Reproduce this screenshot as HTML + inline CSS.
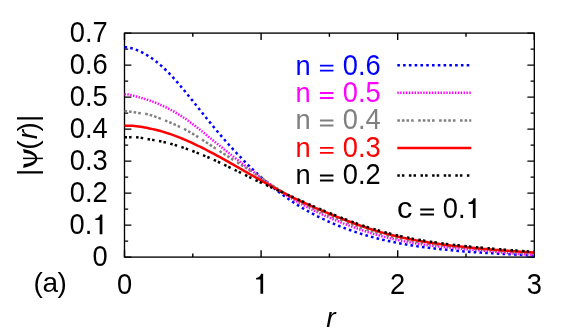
<!DOCTYPE html>
<html><head><meta charset="utf-8"><style>
html,body{margin:0;padding:0;background:#fff}
svg{display:block}
text{font-family:"Liberation Sans",sans-serif;font-size:28px;fill:#000}
.c{fill:none;stroke-width:2.5}
</style></head><body>
<svg width="581" height="332" viewBox="0 0 581 332">
<rect width="581" height="332" fill="#fff"/>
<path d="M124.5,257.1h6.9M534.3,257.1h-6.9M124.5,241.1h3.7M534.3,241.1h-3.7M124.5,225.1h6.9M534.3,225.1h-6.9M124.5,209.1h3.7M534.3,209.1h-3.7M124.5,193.1h6.9M534.3,193.1h-6.9M124.5,177.1h3.7M534.3,177.1h-3.7M124.5,161.1h6.9M534.3,161.1h-6.9M124.5,145.1h3.7M534.3,145.1h-3.7M124.5,129.1h6.9M534.3,129.1h-6.9M124.5,113.1h3.7M534.3,113.1h-3.7M124.5,97.1h6.9M534.3,97.1h-6.9M124.5,81.1h3.7M534.3,81.1h-3.7M124.5,65.1h6.9M534.3,65.1h-6.9M124.5,49.1h3.7M534.3,49.1h-3.7M124.5,33.1h6.9M534.3,33.1h-6.9M124.50,257.1v-6.9M124.50,33.1v6.9M192.80,257.1v-3.7M192.80,33.1v3.7M261.10,257.1v-6.9M261.10,33.1v6.9M329.40,257.1v-3.7M329.40,33.1v3.7M397.70,257.1v-6.9M397.70,33.1v6.9M466.00,257.1v-3.7M466.00,33.1v3.7M534.30,257.1v-6.9M534.30,33.1v6.9" stroke="#000" stroke-width="1.4" fill="none"/>
<rect x="124.5" y="33.1" width="409.80" height="224.00" fill="none" stroke="#000" stroke-width="1.35"/>
<g class="c">
<polyline stroke="#0000ff" stroke-dasharray="2.6 3.18" points="124.5,47.21 126.5,47.29 128.5,47.54 130.5,47.94 132.5,48.47 134.5,49.11 136.5,49.85 138.5,50.68 140.5,51.60 142.5,52.60 144.5,53.69 146.5,54.85 148.5,56.09 150.5,57.40 152.5,58.79 154.5,60.26 156.5,61.80 158.5,63.42 160.5,65.11 162.5,66.89 164.5,68.75 166.5,70.68 168.5,72.69 170.5,74.77 172.5,76.91 174.5,79.11 176.5,81.36 178.5,83.66 180.5,86.00 182.5,88.38 184.5,90.79 186.5,93.23 188.5,95.68 190.5,98.16 192.5,100.64 194.5,103.14 196.5,105.65 198.5,108.16 200.5,110.67 202.5,113.17 204.5,115.68 206.5,118.17 208.5,120.65 210.5,123.12 212.5,125.56 214.5,127.99 216.5,130.39 218.5,132.77 220.5,135.12 222.5,137.45 224.5,139.75 226.5,142.02 228.5,144.27 230.5,146.49 232.5,148.69 234.5,150.86 236.5,153.01 238.5,155.12 240.5,157.22 242.5,159.28 244.5,161.32 246.5,163.33 248.5,165.31 250.5,167.27 252.5,169.19 254.5,171.09 256.5,172.97 258.5,174.81 260.5,176.63 262.5,178.42 264.5,180.18 266.5,181.91 268.5,183.61 270.5,185.28 272.5,186.93 274.5,188.54 276.5,190.13 278.5,191.69 280.5,193.21 282.5,194.71 284.5,196.18 286.5,197.62 288.5,199.03 290.5,200.40 292.5,201.75 294.5,203.07 296.5,204.36 298.5,205.62 300.5,206.85 302.5,208.06 304.5,209.24 306.5,210.39 308.5,211.52 310.5,212.62 312.5,213.70 314.5,214.76 316.5,215.79 318.5,216.80 320.5,217.78 322.5,218.75 324.5,219.69 326.5,220.62 328.5,221.52 330.5,222.41 332.5,223.27 334.5,224.12 336.5,224.95 338.5,225.77 340.5,226.56 342.5,227.34 344.5,228.11 346.5,228.85 348.5,229.58 350.5,230.30 352.5,230.99 354.5,231.68 356.5,232.34 358.5,232.99 360.5,233.63 362.5,234.25 364.5,234.86 366.5,235.45 368.5,236.03 370.5,236.59 372.5,237.14 374.5,237.67 376.5,238.20 378.5,238.70 380.5,239.20 382.5,239.68 384.5,240.15 386.5,240.61 388.5,241.05 390.5,241.48 392.5,241.90 394.5,242.31 396.5,242.71 398.5,243.10 400.5,243.47 402.5,243.84 404.5,244.19 406.5,244.54 408.5,244.87 410.5,245.20 412.5,245.52 414.5,245.83 416.5,246.13 418.5,246.42 420.5,246.70 422.5,246.98 424.5,247.24 426.5,247.50 428.5,247.76 430.5,248.00 432.5,248.25 434.5,248.48 436.5,248.71 438.5,248.93 440.5,249.15 442.5,249.36 444.5,249.57 446.5,249.77 448.5,249.97 450.5,250.17 452.5,250.36 454.5,250.54 456.5,250.73 458.5,250.90 460.5,251.08 462.5,251.25 464.5,251.41 466.5,251.58 468.5,251.73 470.5,251.89 472.5,252.04 474.5,252.19 476.5,252.33 478.5,252.47 480.5,252.61 482.5,252.74 484.5,252.87 486.5,253.00 488.5,253.13 490.5,253.25 492.5,253.37 494.5,253.49 496.5,253.60 498.5,253.71 500.5,253.82 502.5,253.93 504.5,254.03 506.5,254.14 508.5,254.24 510.5,254.34 512.5,254.45 514.5,254.55 516.5,254.66 518.5,254.76 520.5,254.87 522.5,254.98 524.5,255.09 526.5,255.20 528.5,255.32 530.5,255.43 532.5,255.56 534.5,255.68"/>
<polyline stroke="#ff00ff" stroke-dasharray="1.44 1.44" points="124.5,94.15 126.5,94.25 128.5,94.53 130.5,94.94 132.5,95.44 134.5,95.98 136.5,96.53 138.5,97.09 140.5,97.66 142.5,98.25 144.5,98.86 146.5,99.50 148.5,100.16 150.5,100.86 152.5,101.59 154.5,102.35 156.5,103.15 158.5,103.98 160.5,104.84 162.5,105.74 164.5,106.68 166.5,107.66 168.5,108.67 170.5,109.72 172.5,110.81 174.5,111.94 176.5,113.11 178.5,114.32 180.5,115.57 182.5,116.86 184.5,118.19 186.5,119.57 188.5,120.98 190.5,122.44 192.5,123.93 194.5,125.45 196.5,127.00 198.5,128.57 200.5,130.17 202.5,131.78 204.5,133.40 206.5,135.04 208.5,136.68 210.5,138.32 212.5,139.96 214.5,141.60 216.5,143.23 218.5,144.85 220.5,146.47 222.5,148.07 224.5,149.67 226.5,151.26 228.5,152.85 230.5,154.42 232.5,155.99 234.5,157.56 236.5,159.11 238.5,160.66 240.5,162.21 242.5,163.74 244.5,165.27 246.5,166.80 248.5,168.32 250.5,169.83 252.5,171.34 254.5,172.84 256.5,174.34 258.5,175.82 260.5,177.30 262.5,178.76 264.5,180.22 266.5,181.66 268.5,183.09 270.5,184.50 272.5,185.90 274.5,187.29 276.5,188.66 278.5,190.01 280.5,191.34 282.5,192.65 284.5,193.95 286.5,195.22 288.5,196.47 290.5,197.70 292.5,198.90 294.5,200.09 296.5,201.25 298.5,202.38 300.5,203.50 302.5,204.60 304.5,205.68 306.5,206.74 308.5,207.78 310.5,208.80 312.5,209.80 314.5,210.79 316.5,211.76 318.5,212.72 320.5,213.65 322.5,214.58 324.5,215.49 326.5,216.38 328.5,217.26 330.5,218.13 332.5,218.99 334.5,219.83 336.5,220.66 338.5,221.48 340.5,222.29 342.5,223.09 344.5,223.88 346.5,224.65 348.5,225.41 350.5,226.16 352.5,226.90 354.5,227.62 356.5,228.33 358.5,229.03 360.5,229.72 362.5,230.39 364.5,231.05 366.5,231.69 368.5,232.33 370.5,232.95 372.5,233.55 374.5,234.14 376.5,234.72 378.5,235.29 380.5,235.84 382.5,236.37 384.5,236.90 386.5,237.40 388.5,237.90 390.5,238.38 392.5,238.84 394.5,239.30 396.5,239.74 398.5,240.16 400.5,240.58 402.5,240.98 404.5,241.37 406.5,241.75 408.5,242.12 410.5,242.47 412.5,242.82 414.5,243.15 416.5,243.48 418.5,243.79 420.5,244.10 422.5,244.39 424.5,244.68 426.5,244.96 428.5,245.23 430.5,245.49 432.5,245.74 434.5,245.99 436.5,246.23 438.5,246.46 440.5,246.68 442.5,246.90 444.5,247.11 446.5,247.32 448.5,247.52 450.5,247.71 452.5,247.90 454.5,248.09 456.5,248.27 458.5,248.45 460.5,248.62 462.5,248.80 464.5,248.97 466.5,249.14 468.5,249.31 470.5,249.48 472.5,249.65 474.5,249.82 476.5,249.99 478.5,250.16 480.5,250.33 482.5,250.50 484.5,250.68 486.5,250.86 488.5,251.05 490.5,251.23 492.5,251.43 494.5,251.62 496.5,251.83 498.5,252.03 500.5,252.24 502.5,252.45 504.5,252.65 506.5,252.86 508.5,253.06 510.5,253.25 512.5,253.44 514.5,253.61 516.5,253.78 518.5,253.93 520.5,254.07 522.5,254.19 524.5,254.29 526.5,254.38 528.5,254.44 530.5,254.49 532.5,254.50 534.5,254.50"/>
<polyline stroke="#808080" stroke-dasharray="2.6 2 2.6 2 2.6 2 2.6 4.5" points="124.5,111.06 126.5,111.15 128.5,111.37 130.5,111.68 132.5,112.02 134.5,112.36 136.5,112.65 138.5,112.91 140.5,113.16 142.5,113.42 144.5,113.72 146.5,114.09 148.5,114.55 150.5,115.08 152.5,115.69 154.5,116.35 156.5,117.07 158.5,117.83 160.5,118.62 162.5,119.43 164.5,120.25 166.5,121.07 168.5,121.90 170.5,122.74 172.5,123.59 174.5,124.46 176.5,125.35 178.5,126.27 180.5,127.21 182.5,128.19 184.5,129.20 186.5,130.25 188.5,131.34 190.5,132.48 192.5,133.65 194.5,134.85 196.5,136.08 198.5,137.33 200.5,138.61 202.5,139.90 204.5,141.21 206.5,142.52 208.5,143.84 210.5,145.16 212.5,146.48 214.5,147.80 216.5,149.11 218.5,150.41 220.5,151.70 222.5,152.98 224.5,154.26 226.5,155.54 228.5,156.81 230.5,158.08 232.5,159.35 234.5,160.62 236.5,161.89 238.5,163.16 240.5,164.44 242.5,165.72 244.5,167.01 246.5,168.30 248.5,169.60 250.5,170.91 252.5,172.23 254.5,173.55 256.5,174.88 258.5,176.21 260.5,177.55 262.5,178.88 264.5,180.22 266.5,181.55 268.5,182.87 270.5,184.19 272.5,185.50 274.5,186.81 276.5,188.10 278.5,189.37 280.5,190.63 282.5,191.88 284.5,193.11 286.5,194.32 288.5,195.50 290.5,196.67 292.5,197.81 294.5,198.93 296.5,200.02 298.5,201.10 300.5,202.15 302.5,203.19 304.5,204.20 306.5,205.20 308.5,206.18 310.5,207.14 312.5,208.09 314.5,209.02 316.5,209.94 318.5,210.84 320.5,211.73 322.5,212.61 324.5,213.47 326.5,214.33 328.5,215.17 330.5,216.00 332.5,216.83 334.5,217.64 336.5,218.45 338.5,219.25 340.5,220.05 342.5,220.83 344.5,221.61 346.5,222.37 348.5,223.13 350.5,223.88 352.5,224.62 354.5,225.35 356.5,226.06 358.5,226.77 360.5,227.47 362.5,228.15 364.5,228.83 366.5,229.49 368.5,230.14 370.5,230.78 372.5,231.40 374.5,232.01 376.5,232.61 378.5,233.20 380.5,233.77 382.5,234.33 384.5,234.87 386.5,235.40 388.5,235.91 390.5,236.41 392.5,236.90 394.5,237.37 396.5,237.83 398.5,238.28 400.5,238.72 402.5,239.14 404.5,239.55 406.5,239.95 408.5,240.34 410.5,240.72 412.5,241.08 414.5,241.44 416.5,241.78 418.5,242.12 420.5,242.45 422.5,242.77 424.5,243.08 426.5,243.38 428.5,243.67 430.5,243.96 432.5,244.23 434.5,244.50 436.5,244.77 438.5,245.02 440.5,245.27 442.5,245.52 444.5,245.76 446.5,245.99 448.5,246.22 450.5,246.44 452.5,246.66 454.5,246.87 456.5,247.08 458.5,247.29 460.5,247.49 462.5,247.69 464.5,247.89 466.5,248.08 468.5,248.27 470.5,248.46 472.5,248.64 474.5,248.83 476.5,249.01 478.5,249.19 480.5,249.37 482.5,249.55 484.5,249.73 486.5,249.90 488.5,250.08 490.5,250.26 492.5,250.44 494.5,250.61 496.5,250.79 498.5,250.97 500.5,251.15 502.5,251.33 504.5,251.50 506.5,251.68 508.5,251.84 510.5,252.01 512.5,252.17 514.5,252.32 516.5,252.47 518.5,252.62 520.5,252.75 522.5,252.88 524.5,252.99 526.5,253.10 528.5,253.20 530.5,253.28 532.5,253.36 534.5,253.42"/>
<polyline stroke="#ff0000" points="124.5,125.70 126.5,125.70 128.5,125.73 130.5,125.78 132.5,125.87 134.5,126.01 136.5,126.21 138.5,126.46 140.5,126.76 142.5,127.09 144.5,127.46 146.5,127.84 148.5,128.25 150.5,128.67 152.5,129.10 154.5,129.56 156.5,130.04 158.5,130.54 160.5,131.07 162.5,131.63 164.5,132.21 166.5,132.83 168.5,133.48 170.5,134.15 172.5,134.85 174.5,135.58 176.5,136.34 178.5,137.11 180.5,137.92 182.5,138.74 184.5,139.58 186.5,140.45 188.5,141.33 190.5,142.23 192.5,143.15 194.5,144.08 196.5,145.03 198.5,146.00 200.5,146.98 202.5,147.98 204.5,148.99 206.5,150.01 208.5,151.04 210.5,152.09 212.5,153.14 214.5,154.21 216.5,155.29 218.5,156.38 220.5,157.47 222.5,158.58 224.5,159.69 226.5,160.81 228.5,161.93 230.5,163.06 232.5,164.19 234.5,165.33 236.5,166.47 238.5,167.62 240.5,168.76 242.5,169.91 244.5,171.06 246.5,172.20 248.5,173.35 250.5,174.50 252.5,175.64 254.5,176.78 256.5,177.92 258.5,179.05 260.5,180.18 262.5,181.31 264.5,182.43 266.5,183.55 268.5,184.65 270.5,185.76 272.5,186.85 274.5,187.94 276.5,189.02 278.5,190.09 280.5,191.15 282.5,192.20 284.5,193.24 286.5,194.27 288.5,195.28 290.5,196.29 292.5,197.28 294.5,198.26 296.5,199.23 298.5,200.19 300.5,201.14 302.5,202.07 304.5,203.00 306.5,203.91 308.5,204.82 310.5,205.72 312.5,206.60 314.5,207.48 316.5,208.35 318.5,209.21 320.5,210.06 322.5,210.91 324.5,211.75 326.5,212.58 328.5,213.40 330.5,214.22 332.5,215.03 334.5,215.84 336.5,216.63 338.5,217.43 340.5,218.21 342.5,218.99 344.5,219.77 346.5,220.53 348.5,221.29 350.5,222.04 352.5,222.78 354.5,223.51 356.5,224.24 358.5,224.95 360.5,225.66 362.5,226.35 364.5,227.03 366.5,227.71 368.5,228.37 370.5,229.02 372.5,229.65 374.5,230.28 376.5,230.89 378.5,231.49 380.5,232.08 382.5,232.65 384.5,233.21 386.5,233.75 388.5,234.28 390.5,234.80 392.5,235.30 394.5,235.79 396.5,236.27 398.5,236.73 400.5,237.18 402.5,237.62 404.5,238.05 406.5,238.47 408.5,238.87 410.5,239.27 412.5,239.65 414.5,240.03 416.5,240.39 418.5,240.75 420.5,241.10 422.5,241.43 424.5,241.76 426.5,242.08 428.5,242.40 430.5,242.70 432.5,243.00 434.5,243.29 436.5,243.58 438.5,243.85 440.5,244.13 442.5,244.39 444.5,244.65 446.5,244.91 448.5,245.16 450.5,245.41 452.5,245.65 454.5,245.89 456.5,246.12 458.5,246.35 460.5,246.57 462.5,246.79 464.5,247.00 466.5,247.21 468.5,247.42 470.5,247.62 472.5,247.82 474.5,248.02 476.5,248.21 478.5,248.40 480.5,248.58 482.5,248.76 484.5,248.94 486.5,249.11 488.5,249.29 490.5,249.45 492.5,249.62 494.5,249.78 496.5,249.94 498.5,250.10 500.5,250.26 502.5,250.41 504.5,250.56 506.5,250.71 508.5,250.85 510.5,251.00 512.5,251.14 514.5,251.27 516.5,251.41 518.5,251.54 520.5,251.67 522.5,251.80 524.5,251.93 526.5,252.05 528.5,252.18 530.5,252.30 532.5,252.41 534.5,252.53"/>
<polyline stroke="#000000" stroke-dasharray="2.5 2.1 2.5 4.5" points="124.5,137.30 126.5,137.27 128.5,137.20 130.5,137.14 132.5,137.11 134.5,137.15 136.5,137.28 138.5,137.50 140.5,137.78 142.5,138.11 144.5,138.47 146.5,138.83 148.5,139.18 150.5,139.53 152.5,139.88 154.5,140.22 156.5,140.58 158.5,140.95 160.5,141.33 162.5,141.74 164.5,142.18 166.5,142.65 168.5,143.15 170.5,143.69 172.5,144.25 174.5,144.84 176.5,145.45 178.5,146.08 180.5,146.74 182.5,147.41 184.5,148.11 186.5,148.81 188.5,149.53 190.5,150.27 192.5,151.01 194.5,151.78 196.5,152.55 198.5,153.34 200.5,154.14 202.5,154.96 204.5,155.79 206.5,156.63 208.5,157.49 210.5,158.36 212.5,159.25 214.5,160.15 216.5,161.07 218.5,161.99 220.5,162.94 222.5,163.89 224.5,164.85 226.5,165.82 228.5,166.79 230.5,167.78 232.5,168.76 234.5,169.76 236.5,170.75 238.5,171.74 240.5,172.73 242.5,173.73 244.5,174.71 246.5,175.70 248.5,176.68 250.5,177.65 252.5,178.62 254.5,179.58 256.5,180.53 258.5,181.48 260.5,182.42 262.5,183.35 264.5,184.28 266.5,185.21 268.5,186.13 270.5,187.05 272.5,187.96 274.5,188.87 276.5,189.78 278.5,190.68 280.5,191.58 282.5,192.48 284.5,193.38 286.5,194.28 288.5,195.17 290.5,196.07 292.5,196.96 294.5,197.85 296.5,198.74 298.5,199.63 300.5,200.52 302.5,201.40 304.5,202.28 306.5,203.16 308.5,204.03 310.5,204.91 312.5,205.77 314.5,206.64 316.5,207.50 318.5,208.35 320.5,209.20 322.5,210.05 324.5,210.89 326.5,211.72 328.5,212.55 330.5,213.37 332.5,214.18 334.5,214.99 336.5,215.79 338.5,216.58 340.5,217.37 342.5,218.14 344.5,218.91 346.5,219.67 348.5,220.42 350.5,221.16 352.5,221.90 354.5,222.62 356.5,223.33 358.5,224.04 360.5,224.73 362.5,225.42 364.5,226.09 366.5,226.75 368.5,227.40 370.5,228.04 372.5,228.67 374.5,229.28 376.5,229.89 378.5,230.48 380.5,231.06 382.5,231.62 384.5,232.17 386.5,232.71 388.5,233.24 390.5,233.75 392.5,234.25 394.5,234.74 396.5,235.22 398.5,235.68 400.5,236.14 402.5,236.58 404.5,237.01 406.5,237.43 408.5,237.84 410.5,238.24 412.5,238.63 414.5,239.01 416.5,239.37 418.5,239.73 420.5,240.09 422.5,240.43 424.5,240.76 426.5,241.09 428.5,241.40 430.5,241.71 432.5,242.02 434.5,242.31 436.5,242.60 438.5,242.88 440.5,243.15 442.5,243.42 444.5,243.68 446.5,243.94 448.5,244.19 450.5,244.43 452.5,244.67 454.5,244.91 456.5,245.14 458.5,245.36 460.5,245.58 462.5,245.80 464.5,246.01 466.5,246.22 468.5,246.42 470.5,246.62 472.5,246.82 474.5,247.01 476.5,247.20 478.5,247.39 480.5,247.58 482.5,247.76 484.5,247.94 486.5,248.12 488.5,248.30 490.5,248.47 492.5,248.65 494.5,248.82 496.5,248.99 498.5,249.16 500.5,249.33 502.5,249.50 504.5,249.66 506.5,249.83 508.5,249.99 510.5,250.15 512.5,250.31 514.5,250.46 516.5,250.61 518.5,250.76 520.5,250.90 522.5,251.05 524.5,251.19 526.5,251.32 528.5,251.45 530.5,251.58 532.5,251.70 534.5,251.82"/>
</g>
<g style="opacity:.999">
<text transform="translate(107.7,266.1) scale(0.975,1.065)" text-anchor="end">0</text><text transform="translate(69.5,234.1) scale(0.975,1.065)">0.</text><path fill="#000" d="M102.4,234.3h-2.75v-14.2h-4.3v-1.6c2.4,-0.1 4.2,-1.3 5,-4.1h2.05z"/><text transform="translate(107.7,202.1) scale(0.975,1.065)" text-anchor="end">0.2</text><text transform="translate(107.7,170.1) scale(0.975,1.065)" text-anchor="end">0.3</text><text transform="translate(107.7,138.1) scale(0.975,1.065)" text-anchor="end">0.4</text><text transform="translate(107.7,106.1) scale(0.975,1.065)" text-anchor="end">0.5</text><text transform="translate(107.7,74.1) scale(0.975,1.065)" text-anchor="end">0.6</text><text transform="translate(107.7,42.1) scale(0.975,1.065)" text-anchor="end">0.7</text>
<text transform="translate(124.5,293.6) scale(0.975,1.065)" text-anchor="middle">0</text><path fill="#000" d="M263.15,293.7h-2.75v-14.2h-4.3v-1.6c2.4,-0.1 4.2,-1.3 5,-4.1h2.05z"/><text transform="translate(397.7,293.6) scale(0.975,1.065)" text-anchor="middle">2</text><text transform="translate(534.3,293.6) scale(0.975,1.065)" text-anchor="middle">3</text>
<text transform="translate(33.6,292.2)" letter-spacing="-0.45">(a)</text>
<text transform="translate(331,327.4) scale(1.0,1.0)" text-anchor="middle" font-style="italic">r</text>
<text transform="translate(36.9,175.9) rotate(-90) scale(1,0.985)">|<tspan dx="18.97">(</tspan><tspan font-style="italic" dx="1">r</tspan><tspan dx="-1.4">)|</tspan></text>
<path d="M23,158.4H42.9" stroke="#000" stroke-width="1.5" fill="none"/>
<path d="M23.02,148.98C28.8,150.21 36.9,151.87 37.33,158.38C36.9,164.88 28.8,166.55 23.02,167.78L23.88,163.94C29.16,163.22 34.95,161.99 35.31,158.38C34.95,154.76 29.16,153.53 23.88,152.81Z" fill="#000"/>
<text transform="translate(295.4,74.5) scale(0.975,0.985)" style="fill:#0000ff">n</text><path fill="#0000ff" d="M319.95,64.65H333.45v1.9H319.95zM319.95,69.65H333.45v1.9H319.95z"/><text transform="translate(342.8,74.5) scale(0.975,1.065)" style="fill:#0000ff">0.6</text><text transform="translate(295.4,101.9) scale(0.975,0.985)" style="fill:#ff00ff">n</text><path fill="#ff00ff" d="M319.95,92.05H333.45v1.9H319.95zM319.95,97.05H333.45v1.9H319.95z"/><text transform="translate(342.8,101.9) scale(0.975,1.065)" style="fill:#ff00ff">0.5</text><text transform="translate(295.4,129.4) scale(0.975,0.985)" style="fill:#808080">n</text><path fill="#808080" d="M319.95,119.55H333.45v1.9H319.95zM319.95,124.55H333.45v1.9H319.95z"/><text transform="translate(342.8,129.4) scale(0.975,1.065)" style="fill:#808080">0.4</text><text transform="translate(295.4,156.8) scale(0.975,0.985)" style="fill:#ff0000">n</text><path fill="#ff0000" d="M319.95,146.95H333.45v1.9H319.95zM319.95,151.95H333.45v1.9H319.95z"/><text transform="translate(342.8,156.8) scale(0.975,1.065)" style="fill:#ff0000">0.3</text><text transform="translate(295.4,184.4) scale(0.975,0.985)" style="fill:#000000">n</text><path fill="#000000" d="M319.95,174.55H333.45v1.9H319.95zM319.95,179.55H333.45v1.9H319.95z"/><text transform="translate(342.8,184.4) scale(0.975,1.065)" style="fill:#000000">0.2</text>
<text transform="translate(396.9,218.2) scale(1.1,1.02)">c</text><path fill="#000" d="M420.2,208.55H434.0v1.9H420.2zM420.2,213.55H434.0v1.9H420.2z"/><text transform="translate(442.7,218.2) scale(0.975,1.065)">0.</text><path fill="#000" d="M475.6,218.1h-2.75v-14.2h-4.3v-1.6c2.4,-0.1 4.2,-1.3 5,-4.1h2.05z"/>
</g>
<g class="c"><path stroke="#0000ff" stroke-dasharray="2.6 3.18" d="M397.3,65.2H471.3"/><path stroke="#ff00ff" stroke-dasharray="1.44 1.44" d="M397.3,92.8H471.3"/><path stroke="#808080" stroke-dasharray="2.6 2 2.6 2 2.6 2 2.6 4.5" d="M397.3,120.4H471.3"/><path stroke="#ff0000" d="M397.3,148.0H471.3"/><path stroke="#000000" stroke-dasharray="2.5 2.1 2.5 4.5" d="M397.3,175.5H471.3"/></g>
</svg>
</body></html>
